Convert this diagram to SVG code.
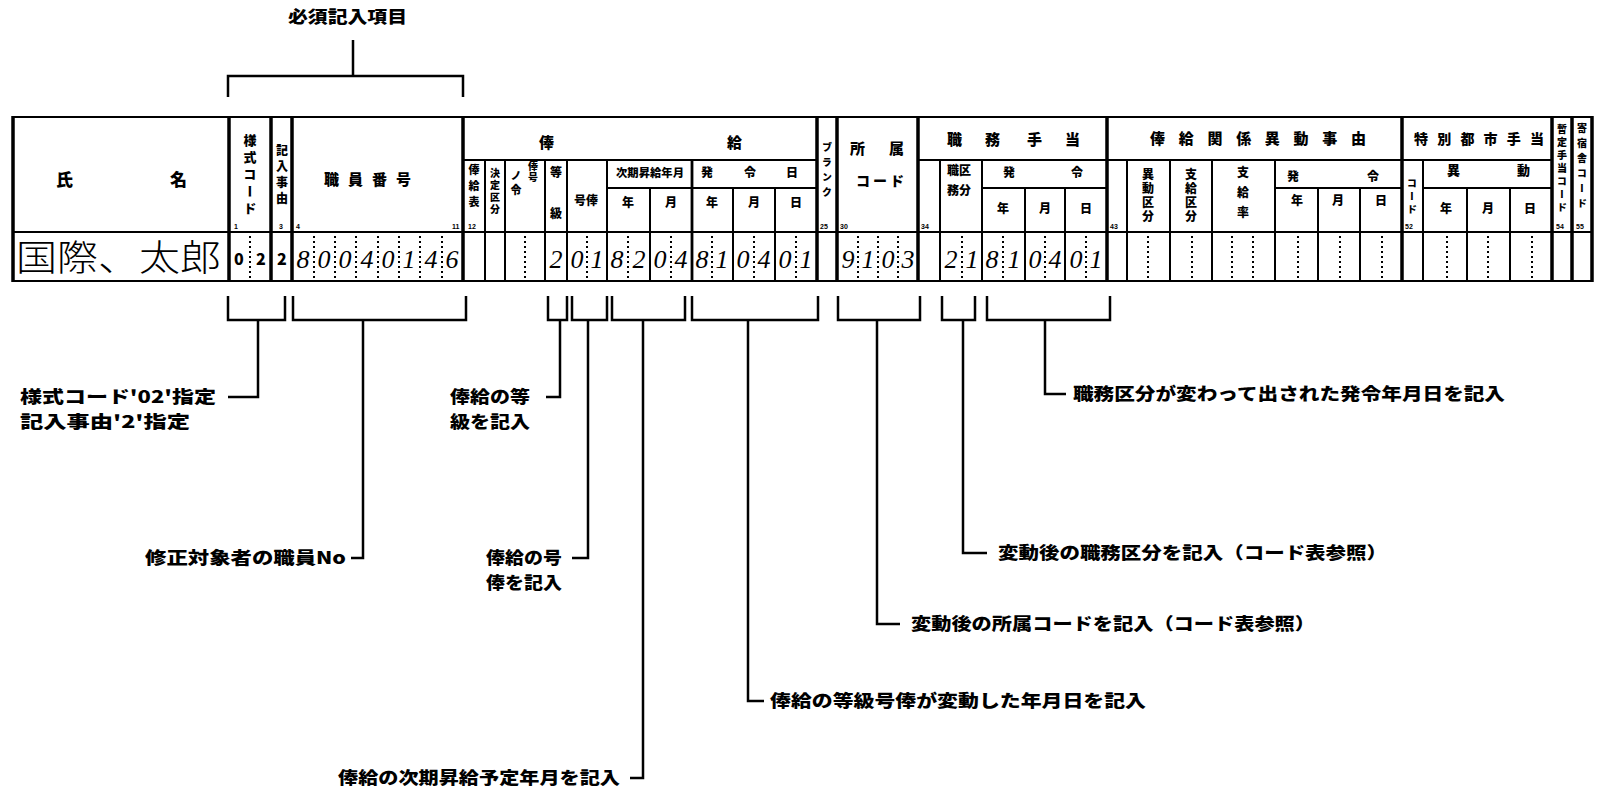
<svg xmlns="http://www.w3.org/2000/svg" width="1605" height="790" viewBox="0 0 1605 790">
<style>
.bg{fill:#fff}
.thk{stroke:#000;stroke-width:3.5;fill:none}
.thn{stroke:#000;stroke-width:2;fill:none}
.hl{stroke:#000;stroke-width:2;fill:none}
.dot{stroke:#000;stroke-width:2;stroke-dasharray:2 3;fill:none}
.br{stroke:#000;stroke-width:2.5;fill:none}
.ld{stroke:#000;stroke-width:2.5;fill:none}
.h{font-family:"Noto Sans CJK JP","Noto Sans",sans-serif;font-weight:900;fill:#000}
.v{font-family:"Noto Sans CJK JP","Noto Sans",sans-serif;font-weight:900;fill:#000;writing-mode:vertical-rl;text-anchor:middle}
.n{font-family:"Liberation Sans",sans-serif;font-weight:700;font-size:7px;fill:#000}
.lb{font-family:"Noto Sans CJK JP","Noto Sans",sans-serif;font-weight:900;font-size:17px;fill:#000}
.d{font-family:"Liberation Serif",serif;font-style:italic;font-size:26px;fill:#000;text-anchor:middle}
.nm{font-family:"Noto Sans CJK JP",sans-serif;font-weight:300;font-size:36px;fill:#000}
</style>
<rect class="bg" width="1605" height="790"/>

<g id="required-items">
<text class="lb" x="288" y="23" textLength="119" lengthAdjust="spacingAndGlyphs">必須記入項目</text>
<path class="br" d="M353 40V76M228 97V76H463V97"/>
</g>

<g id="form-grid">
<path class="hl" d="M13 117H1592M13 232H1592M13 281H1592"/>
<path class="hl" d="M463 160H817M918 160H1552M607 188H817M982 188H1107M1275 188H1402M1423 188H1552"/>
<path class="thk" d="M13 116V282M229 116V282M271 116V282M292 116V282M463 116V282M817 116V282M837 116V282M918 116V282M1107 116V282M1402 116V282M1552 116V282M1572 116V282M1592 116V282"/>
<path class="thn" d="M485 160V281M505 160V281M545 160V281M567 160V281M607 160V281M940 160V281M982 160V281M1127 160V281M1170 160V281M1212 160V281M1275 160V281M1423 160V281"/>
<path class="thk" d="M692 160V281" style="stroke-width:2.8"/>
<path class="thn" d="M650 188V281M733 188V281M775 188V281M1025 188V281M1065 188V281M1318 188V281M1360 188V281M1467 188V281M1510 188V281"/>
<path class="dot" d="M250 236V278M314 236V278M335 236V278M356 236V278M378 236V278M399 236V278M420 236V278M442 236V278M525 236V278M587 236V278M628 236V278M671 236V278M712 236V278M754 236V278M796 236V278M858 236V278M878 236V278M898 236V278M962 236V278M1003 236V278M1045 236V278M1086 236V278M1148 236V278M1192 236V278M1232 236V278M1253 236V278M1298 236V278M1340 236V278M1382 236V278M1447 236V278M1488 236V278M1532 236V278"/>
</g>

<g id="header-name">
<text class="h" x="56" y="186" font-size="17">氏</text>
<text class="h" x="170" y="186" font-size="17">名</text>
</g>
<g id="header-style-code">
<text class="v" x="250" y="176" font-size="13" letter-spacing="4">様式コード</text>
<text class="n" x="234" y="229">1</text>
</g>
<g id="header-reason">
<text class="v" x="282" y="176" font-size="12" letter-spacing="4">記入事由</text>
<text class="n" x="279" y="229">3</text>
</g>
<g id="header-staff-no">
<text class="h" x="324" y="185" font-size="15" letter-spacing="9">職員番号</text>
<text class="n" x="296" y="229">4</text>
<text class="n" x="452" y="229">11</text>
</g>
<g id="header-salary">
<text class="h" x="539" y="148" font-size="15">俸</text>
<text class="h" x="727" y="148" font-size="15">給</text>
<text class="v" x="474" y="188" font-size="11" letter-spacing="5">俸給表</text>
<text class="n" x="468" y="229">12</text>
<text class="v" x="495" y="192" font-size="10" letter-spacing="2">決定区分</text>
<text class="v" x="516" y="184" font-size="11" letter-spacing="3">ノ令</text>
<text class="v" x="533" y="172" font-size="10" letter-spacing="1">俸号</text>
<text class="h" x="550" y="177" font-size="12">等</text>
<text class="h" x="550" y="218" font-size="12">級</text>
<text class="h" x="574" y="205" font-size="12">号俸</text>
<text class="h" x="616" y="177" font-size="11" textLength="68" lengthAdjust="spacingAndGlyphs">次期昇給年月</text>
<text class="h" x="622" y="207" font-size="12">年</text>
<text class="h" x="665" y="207" font-size="12">月</text>
<text class="h" x="701" y="177" font-size="12">発</text>
<text class="h" x="744" y="177" font-size="12">令</text>
<text class="h" x="786" y="177" font-size="12">日</text>
<text class="h" x="706" y="207" font-size="12">年</text>
<text class="h" x="748" y="207" font-size="12">月</text>
<text class="h" x="790" y="207" font-size="12">日</text>
</g>
<g id="header-blank">
<text class="v" x="827" y="172" font-size="10" letter-spacing="5">ブランク</text>
<text class="n" x="820" y="229">25</text>
</g>
<g id="header-dept-code">
<text class="h" x="850" y="154" font-size="15">所</text>
<text class="h" x="889" y="154" font-size="15">属</text>
<text class="h" x="856" y="186" font-size="14" letter-spacing="3">コード</text>
<text class="n" x="840" y="229">30</text>
</g>
<g id="header-duty-allowance">
<text class="h" x="947" y="145" font-size="15">職</text>
<text class="h" x="985" y="145" font-size="15">務</text>
<text class="h" x="1027" y="145" font-size="15">手</text>
<text class="h" x="1065" y="145" font-size="15">当</text>
<text class="n" x="921" y="229">34</text>
<text class="h" x="947" y="175" font-size="12">職区</text>
<text class="h" x="947" y="195" font-size="12">務分</text>
<text class="h" x="1003" y="177" font-size="12">発</text>
<text class="h" x="1071" y="177" font-size="12">令</text>
<text class="h" x="997" y="213" font-size="12">年</text>
<text class="h" x="1039" y="213" font-size="12">月</text>
<text class="h" x="1080" y="213" font-size="12">日</text>
</g>
<g id="header-salary-change">
<text class="h" x="1150" y="144" font-size="15" textLength="216" lengthAdjust="spacing">俸給関係異動事由</text>
<text class="n" x="1110" y="229">43</text>
<text class="v" x="1148" y="196" font-size="12" letter-spacing="2">異動区分</text>
<text class="v" x="1191" y="196" font-size="12" letter-spacing="2">支給区分</text>
<text class="v" x="1243" y="196" font-size="12" letter-spacing="8">支給率</text>
<text class="h" x="1287" y="181" font-size="12">発</text>
<text class="h" x="1367" y="181" font-size="12">令</text>
<text class="h" x="1291" y="205" font-size="12">年</text>
<text class="h" x="1332" y="205" font-size="12">月</text>
<text class="h" x="1375" y="205" font-size="12">日</text>
</g>
<g id="header-city-allowance">
<text class="h" x="1414" y="144" font-size="14" textLength="130" lengthAdjust="spacing">特別都市手当</text>
<text class="v" x="1412" y="198" font-size="10" letter-spacing="3">コード</text>
<text class="n" x="1405" y="229">52</text>
<text class="h" x="1447" y="175" font-size="13">異</text>
<text class="h" x="1517" y="175" font-size="13">動</text>
<text class="h" x="1440" y="213" font-size="12">年</text>
<text class="h" x="1482" y="213" font-size="12">月</text>
<text class="h" x="1524" y="213" font-size="12">日</text>
</g>
<g id="header-provisional-code">
<text class="v" x="1562" y="170" font-size="10" letter-spacing="3">暫定手当コード</text>
<text class="n" x="1556" y="229">54</text>
</g>
<g id="header-dorm-code">
<text class="v" x="1582" y="168" font-size="10" letter-spacing="5">寄宿舎コード</text>
<text class="n" x="1576" y="229">55</text>
</g>

<g id="data-row">
<text class="nm" x="16" y="271" textLength="205" lengthAdjust="spacingAndGlyphs">国際、太郎</text>
<text class="h" x="234" y="265" font-size="16">0</text>
<text class="h" x="256" y="265" font-size="16">2</text>
<text class="h" x="277" y="265" font-size="16">2</text>
<text class="d" x="303" y="268">8</text><text class="d" x="324" y="268">0</text><text class="d" x="345" y="268">0</text><text class="d" x="367" y="268">4</text><text class="d" x="388" y="268">0</text><text class="d" x="409" y="268">1</text><text class="d" x="431" y="268">4</text><text class="d" x="452" y="268">6</text>
<text class="d" x="556" y="268">2</text>
<text class="d" x="577" y="268">0</text><text class="d" x="597" y="268">1</text>
<text class="d" x="617" y="268">8</text><text class="d" x="639" y="268">2</text>
<text class="d" x="660" y="268">0</text><text class="d" x="681" y="268">4</text>
<text class="d" x="702" y="268">8</text><text class="d" x="722" y="268">1</text>
<text class="d" x="743" y="268">0</text><text class="d" x="764" y="268">4</text>
<text class="d" x="785" y="268">0</text><text class="d" x="806" y="268">1</text>
<text class="d" x="848" y="268">9</text><text class="d" x="868" y="268">1</text><text class="d" x="888" y="268">0</text><text class="d" x="908" y="268">3</text>
<text class="d" x="951" y="268">2</text><text class="d" x="972" y="268">1</text>
<text class="d" x="992" y="268">8</text><text class="d" x="1014" y="268">1</text>
<text class="d" x="1035" y="268">0</text><text class="d" x="1055" y="268">4</text>
<text class="d" x="1076" y="268">0</text><text class="d" x="1096" y="268">1</text>
</g>

<g id="connectors">
<path class="br" d="M228 296V320H285V296M293 296V320H466V296M548 296V320H567V296M572 296V320H607V296M612 296V320H685V296M692 296V320H818V296M838 296V320H920V296M942 296V320H975V296M987 296V320H1110V296"/>
<path class="ld" d="M258 320V397H228"/>
<path class="ld" d="M363 320V558H351"/>
<path class="ld" d="M560 320V397H546"/>
<path class="ld" d="M588 320V558H572"/>
<path class="ld" d="M643 320V778H630"/>
<path class="ld" d="M748 320V701H764"/>
<path class="ld" d="M877 320V624H900"/>
<path class="ld" d="M963 320V553H987"/>
<path class="ld" d="M1045 320V394H1066"/>
</g>

<g id="label-style-code">
<text class="lb" x="20" y="403" textLength="196" lengthAdjust="spacingAndGlyphs">様式コード'02'指定</text>
<text class="lb" x="20" y="428" textLength="170" lengthAdjust="spacingAndGlyphs">記入事由'2'指定</text>
</g>
<g id="label-staff-no">
<text class="lb" x="145" y="564" textLength="201" lengthAdjust="spacingAndGlyphs">修正対象者の職員No</text>
</g>
<g id="label-grade">
<text class="lb" x="450" y="403" textLength="80" lengthAdjust="spacingAndGlyphs">俸給の等</text>
<text class="lb" x="450" y="428" textLength="80" lengthAdjust="spacingAndGlyphs">級を記入</text>
</g>
<g id="label-step">
<text class="lb" x="486" y="564" textLength="76" lengthAdjust="spacingAndGlyphs">俸給の号</text>
<text class="lb" x="486" y="589" textLength="76" lengthAdjust="spacingAndGlyphs">俸を記入</text>
</g>
<g id="label-next-raise">
<text class="lb" x="338" y="784" textLength="282" lengthAdjust="spacingAndGlyphs">俸給の次期昇給予定年月を記入</text>
</g>
<g id="label-change-date">
<text class="lb" x="770" y="707" textLength="376" lengthAdjust="spacingAndGlyphs">俸給の等級号俸が変動した年月日を記入</text>
</g>
<g id="label-dept-code">
<text class="lb" x="911" y="630" textLength="404" lengthAdjust="spacingAndGlyphs">変動後の所属コードを記入（コード表参照）</text>
</g>
<g id="label-duty-class">
<text class="lb" x="998" y="559" textLength="389" lengthAdjust="spacingAndGlyphs">変動後の職務区分を記入（コード表参照）</text>
</g>
<g id="label-duty-date">
<text class="lb" x="1073" y="400" textLength="432" lengthAdjust="spacingAndGlyphs">職務区分が変わって出された発令年月日を記入</text>
</g>
</svg>
